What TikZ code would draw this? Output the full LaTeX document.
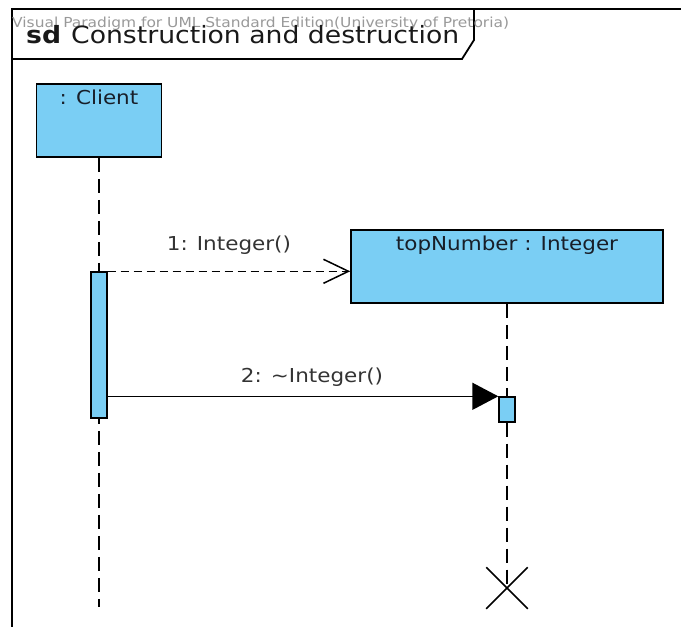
\documentclass[tikz,border=0pt]{standalone}
\usepackage{fontspec}
\setmainfont{DejaVu Sans}[FakeStretch=1.12]
\usetikzlibrary{calc,positioning,shapes.misc,arrows.meta}
\definecolor{vpblue}{RGB}{122,206,244}
\definecolor{vptext}{RGB}{24,30,40}
\tikzset{
	frameline/.style={line width=1.8pt, draw=black},
	objbox/.style={draw=black, line width=1.6pt, fill=vpblue, inner sep=0pt},
	barbox/.style={draw=black, line width=1.4pt, fill=vpblue, inner sep=0pt, minimum width=16pt},
	objname/.style={inner sep=0pt, text=vptext, font=\fontsize{19.2}{22}\selectfont},
	msgname/.style={inner sep=0pt, text=black!80, font=\fontsize{19.2}{22}\selectfont},
	lifeline/.style={line width=1.5pt, dash pattern=on 14pt off 7pt},
	createmsg/.style={line width=1.5pt, dash pattern=on 8pt off 5pt, -{Straight Barb[length=25pt, width=24pt]}},
	callmsg/.style={line width=1.5pt, -{Triangle[length=26pt, width=27pt]}},
	killmark/.style={cross out, draw=black, line width=1.5pt, minimum size=40pt, inner sep=0pt},
}

\begin{document}
\begin{tikzpicture}[x=1pt, y=-1pt]
		%%%%% START %%%%%
		\clip (0,0) rectangle (681,627);
		
		% frame and title tab
		\draw[frameline] (12,640) -- (12,9) -- (700,9);
		\draw[frameline] (12,59) -- (462,59) -- (474,40) -- (474,9);
		\node[inner sep=0pt, anchor=base west, text=black!40, font=\fontsize{13.8}{16}\selectfont] (vpmark) at (12,27.5) {Visual Paradigm for UML Standard Edition(University of Pretoria)};
		\node[inner sep=0pt, anchor=base west, text=black!90, font=\fontsize{23.8}{26}\selectfont] (sdtitle) at (26,43.5) {\textbf{sd}\hspace{10pt}Construction and destruction};
		
		% client
		\node[objbox, minimum width=125pt, minimum height=73pt] (client) at (99,120.5) {};
		\node[objname, below=7pt of client.north] (clientname) {: Client};
		\coordinate (clientend) at (99,607);
		\draw[lifeline] (client.south) -- (clientend);
		\node[barbox, minimum height=146pt] (clientbar) at (99,345) {};
		
		% topNumber
		\node[objbox, minimum width=312pt, minimum height=73pt] (topnum) at (507,266.5) {};
		\node[objname, below=7pt of topnum.north] (topnumname) {topNumber : Integer};
		\node[barbox, minimum height=25pt] (tnbar) at (507,409.5) {};
		\node[killmark] (tnkill) at (507,588) {};
		\draw[lifeline] (topnum.south) -- (tnbar.north);
		\draw[lifeline] (tnbar.south) -- (tnkill.center);
		
		% messages
		\draw[createmsg] (clientbar.north east) -- (clientbar.north east -| topnum.west) node[msgname, midway, above=16pt] (msgone) {1: Integer()};
		\draw[callmsg] (clientbar.east |- tnbar.north) -- (tnbar.north west) node[msgname, pos=0.523, above=9pt] (msgtwo) {2: \textasciitilde Integer()};
		
		%%%%% END %%%%%
\end{tikzpicture}
\end{document}
